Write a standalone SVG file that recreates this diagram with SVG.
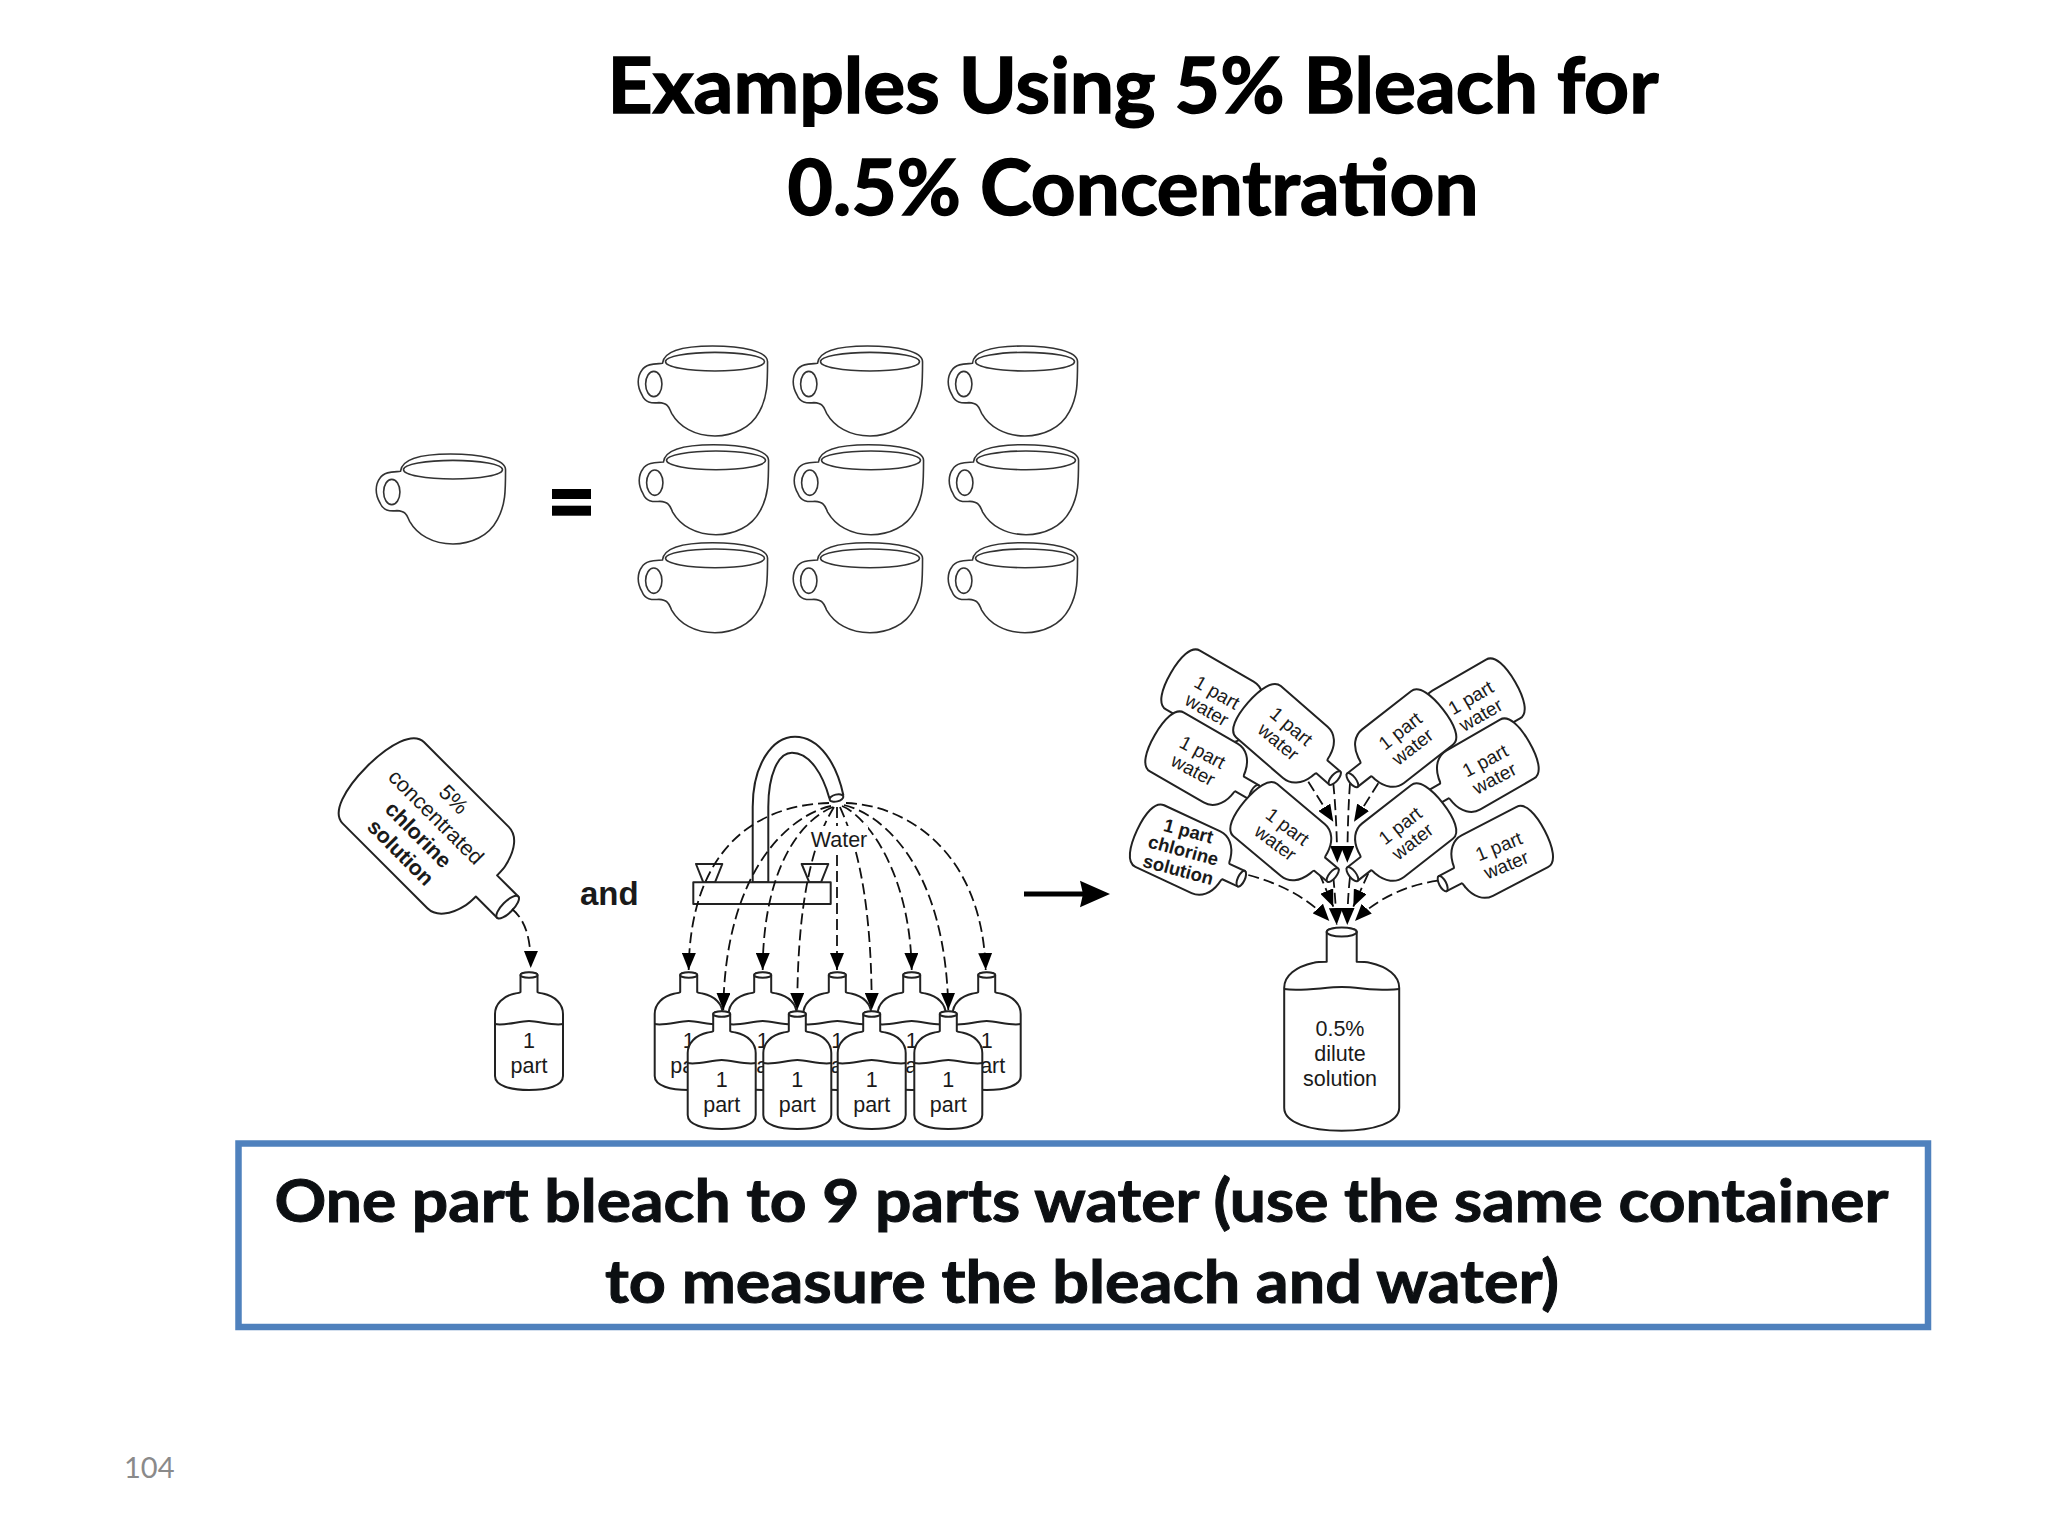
<svg xmlns="http://www.w3.org/2000/svg" width="2048" height="1536" viewBox="0 0 2048 1536">
<style>
.ink{fill:#fff;stroke:#222;stroke-width:2;stroke-linejoin:round}
.line{fill:none;stroke:#222;stroke-width:2}
.cup{fill:#fff;stroke:#333;stroke-width:1.600;vector-effect:non-scaling-stroke}
.flow{fill:none;stroke:#111;stroke-width:1.800;stroke-dasharray:11 5;marker-end:url(#ah)}
.h{font-family:"Lato","Liberation Sans",sans-serif;font-weight:700;text-anchor:middle}
.t{font-family:"Liberation Sans",Arial,sans-serif;fill:#1a1a1a;text-anchor:middle}
.s{font-size:21.5px}.m{font-size:19px}.b{font-weight:700}
</style>
<defs>
<marker id="ah" markerUnits="userSpaceOnUse" markerWidth="17" markerHeight="14" refX="17" refY="7" orient="auto" viewBox="0 0 17 14"><path d="M0 0L17 7L0 14Z" fill="#000"/></marker>
<g id="cupS" transform="translate(340 320) scale(.5102 .3333)">
<path class="cup" d="M632 130C634 100 660 78 730 78C790 78 838 95 838 125C838 190 838 230 822 275C805 325 770 348 735 348C695 348 665 320 650 280C645 265 645 250 625 248C610 250 598 248 592 225C582 200 582 170 592 150C600 130 620 132 632 130Z"/>
<ellipse class="cup" cx="735" cy="125" rx="97" ry="28"/>
<ellipse class="cup" cx="615" cy="192" rx="16" ry="38"/>
</g>
<path id="bs" d="M-8.5 3V20C-8.5 21 -12 21 -14 21.500C-26 24 -34 32 -34 42V104C-34 114 -18 118 0 118C18 118 34 114 34 104V42C34 32 26 24 14 21.500C12 21 8.500 21 8.500 20V3C8.500 0 -8.500 0 -8.500 3Z"/>
<g id="bottle"><use href="#bs" class="ink"/><ellipse class="ink" cx="0" cy="3" rx="8.500" ry="2.800"/><path class="line" d="M-34 52C-24 54 -10 49 0 49C10 49 24 54 34 52"/><text class="t s" y="76">1</text><text class="t s" y="101">part</text></g>
<g id="tilt"><use href="#bs" class="ink"/><ellipse class="ink" cx="0" cy="3" rx="8.500" ry="3.500"/></g>
<path id="bl" d="M-15 4V34C-18 34 -24 34 -28 35C-46 39 -57.500 48 -57.500 60V180C-57.500 195 -32 203 0 203C32 203 57.500 195 57.500 180V60C57.500 48 46 39 28 35C24 34 18 34 15 34V4C15 -1 -15 -1 -15 4Z"/>
</defs>

<g id="title" fill="#000" stroke="#000" stroke-width="1.500">
<text class="h" x="1133" y="112.500" font-size="77" textLength="1051" lengthAdjust="spacingAndGlyphs">Examples Using 5% Bleach for</text>
<text class="h" x="1133" y="215" font-size="77" textLength="691" lengthAdjust="spacingAndGlyphs">0.5% Concentration</text>
</g>

<g id="cups">
<use href="#cupS" transform="translate(-262 108)"/>
<use href="#cupS"/><use href="#cupS" x="155"/><use href="#cupS" x="310"/>
<use href="#cupS" x="1" y="98.700"/><use href="#cupS" x="156" y="98.700"/><use href="#cupS" x="311" y="98.700"/>
<use href="#cupS" y="196.700"/><use href="#cupS" x="155" y="196.700"/><use href="#cupS" x="310" y="196.700"/>
</g>
<g id="equals" fill="#000"><rect x="552" y="489" width="39" height="10"/><rect x="552" y="505.700" width="39" height="10"/></g>

<g id="concentrate-bottle">
<g transform="translate(510.500 910) rotate(135)"><use href="#bl" class="ink"/><ellipse class="ink" cx="0" cy="4" rx="15" ry="5.500"/></g>
<g transform="translate(427 826) rotate(45)">
<text class="t" font-size="21.500" y="-30.500">5%</text>
<text class="t" font-size="21.500" y="-5.500">concentrated</text>
<text class="t b" font-size="21.500" y="19.500">chlorine</text>
<text class="t b" font-size="21.500" y="44.500">solution</text>
</g>
</g>
<g id="part-bottle"><use href="#bottle" x="529" y="972"/></g>
<text id="and" class="t b" x="609.300" y="905" font-size="33" fill="#000">and</text>

<g id="faucet">
<path class="ink" d="M696 864H722.300L715 882.300H703.300ZM801.700 864H828.300L821 882.300H809.300Z"/>
<path class="ink" d="M752.700 882.300V807C752.700 765 772 736.700 795 736.700C820 736.700 837 765 843.300 795L829.300 798C823 775 810 752.700 792 752.700C778 752.700 768.300 775 768.300 807V882.300Z"/>
<ellipse class="ink" cx="836.500" cy="798" rx="7" ry="3.500" transform="rotate(-14 836.500 798)"/>
<rect class="ink" x="693.300" y="882.300" width="137.400" height="21.700"/>
</g>

<g id="back-bottles">
<use href="#bottle" x="688.700" y="972"/><use href="#bottle" x="762.700" y="972"/><use href="#bottle" x="837.300" y="972"/><use href="#bottle" x="911.700" y="972"/><use href="#bottle" x="986.700" y="972"/>
</g>
<g id="front-bottles">
<use href="#bottle" x="721.700" y="1011"/><use href="#bottle" x="797.300" y="1011"/><use href="#bottle" x="871.700" y="1011"/><use href="#bottle" x="948.300" y="1011"/>
</g>

<g id="connectors">
<path class="flow" d="M512 909C528 922 531 945 530.700 968"/>
<path class="flow" d="M829 803C755 805 690 850 688.700 970"/>
<path class="flow" d="M831 806C790 815 725 870 723.300 1010"/>
<path class="flow" d="M833 807C800 820 763 870 762.700 970"/>
<path class="flow" d="M834 807C820 830 797 880 797.300 1010"/>
<path class="flow" d="M837 807V970"/>
<path class="flow" d="M840 807C850 830 872 880 871.700 1010"/>
<path class="flow" d="M842 806C865 815 910 870 911.700 970"/>
<path class="flow" d="M844 805C885 815 946 870 948.300 1010"/>
<path class="flow" d="M846 803C905 805 982 850 985.700 970"/>
<path class="flow" d="M1308.300 781.700L1333.300 821.700"/>
<path class="flow" d="M1378.300 783.300L1354 821.700"/>
<path class="flow" d="M1333.300 783.300C1336 810 1337 840 1337.300 862.700"/>
<path class="flow" d="M1350 783.300C1348 810 1347.500 840 1347.300 862.700"/>
<path class="flow" d="M1319.300 873.300L1333.300 906.700"/>
<path class="flow" d="M1368.300 873.300L1353.300 906.700"/>
<path class="flow" d="M1333.300 876.700C1335 895 1336 910 1336.700 925"/>
<path class="flow" d="M1350 877C1348 895 1347.500 910 1347.300 925"/>
<path class="flow" d="M1248.300 875C1285 885 1310 900 1329.300 921"/>
<path class="flow" d="M1438 880.700C1405 885 1375 900 1355 921"/>
</g>
<g id="water-label"><rect x="810" y="826" width="58" height="24" fill="#fff"/><text class="t" x="839" y="847" font-size="21.500">Water</text></g>

<g id="poured-bottles">
<g transform="translate(1273 732) rotate(120)"><use href="#tilt"/></g>
<g transform="translate(1257 794) rotate(120)"><use href="#tilt"/></g>
<g transform="translate(1413 741) rotate(-120)"><use href="#tilt"/></g>
<g transform="translate(1427 801) rotate(-120)"><use href="#tilt"/></g>
<g transform="translate(1337 780) rotate(131)"><use href="#tilt"/></g>
<g transform="translate(1350 782) rotate(-128)"><use href="#tilt"/></g>
<g transform="translate(1335 877) rotate(130)"><use href="#tilt"/></g>
<g transform="translate(1350 876) rotate(-128)"><use href="#tilt"/></g>
<g transform="translate(1440 885) rotate(-117.500)"><use href="#tilt"/></g>
<g transform="translate(1244 880) rotate(115)"><use href="#tilt"/></g>
<g class="t m">
<g transform="translate(1210.700 703.300) rotate(30)"><text y="-6">1 part</text><text y="14">water</text></g>
<g transform="translate(1283.300 736) rotate(40)"><text y="-6">1 part</text><text y="14">water</text></g>
<g transform="translate(1196.700 763.300) rotate(28)"><text y="-6">1 part</text><text y="14">water</text></g>
<g transform="translate(1280 836.700) rotate(37)"><text y="-6">1 part</text><text y="14">water</text></g>
<g transform="translate(1406.700 739.300) rotate(-38)"><text y="-4">1 part</text><text y="16">water</text></g>
<g transform="translate(1406.700 834) rotate(-38)"><text y="-4">1 part</text><text y="16">water</text></g>
<g transform="translate(1476 706.700) rotate(-30)"><text y="-4">1 part</text><text y="16">water</text></g>
<g transform="translate(1490 770) rotate(-28)"><text y="-4">1 part</text><text y="16">water</text></g>
<g transform="translate(1502.700 856) rotate(-22)"><text y="-4">1 part</text><text y="16">water</text></g>
</g>
<g transform="translate(1183.300 850.700) rotate(15)" class="t b" font-size="18.500"><text y="-14">1 part</text><text y="6">chlorine</text><text y="26">solution</text></g>
</g>

<g id="dilute-bottle">
<use href="#bl" class="ink" x="1341.700" y="927.700"/>
<ellipse class="ink" cx="1341.700" cy="932" rx="15" ry="4.500"/>
<path class="line" d="M1284.200 989C1300 992 1325 987 1341.700 987C1358 987 1383 992 1399.200 989"/>
<text class="t s" x="1340" y="1036">0.5%</text><text class="t s" x="1340" y="1061">dilute</text><text class="t s" x="1340" y="1086">solution</text>
</g>

<g id="big-arrow"><path d="M1024 894H1086" stroke="#000" stroke-width="5" fill="none"/><path d="M1080 880.700L1110 894L1080 907.300L1083 894Z" fill="#000"/></g>

<g id="note">
<rect x="238.500" y="1143.500" width="1689.500" height="183.500" fill="#fff" stroke="#4f81bd" stroke-width="6.500"/>
<g fill="#0c0f12" stroke="#0c0f12" stroke-width="1">
<text class="h" x="1081.500" y="1221.700" font-size="60" textLength="1614" lengthAdjust="spacingAndGlyphs">One part bleach to 9 parts water (use the same container</text>
<text class="h" x="1082" y="1303.300" font-size="60" textLength="954" lengthAdjust="spacingAndGlyphs">to measure the bleach and water)</text>
</g>
</g>
<text id="page" x="124" y="1477.700" font-family="Lato,'Liberation Sans',sans-serif" font-size="29" fill="#8a8a8a">104</text>
</svg>
